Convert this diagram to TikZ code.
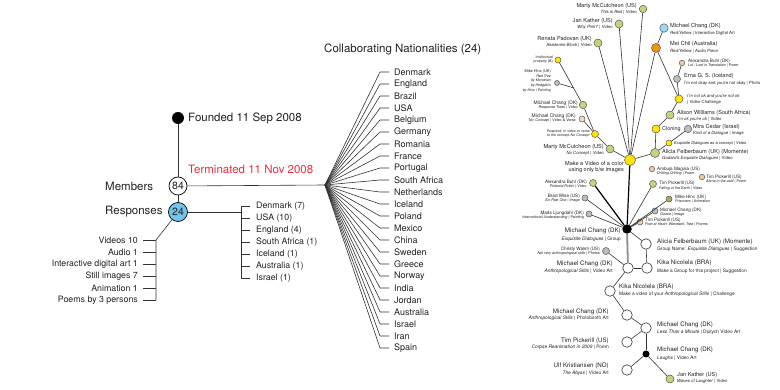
\documentclass[tikz,border=0pt]{standalone}
\usepackage{fontspec}
\setmainfont{TeX Gyre Heros}
\usetikzlibrary{calc}
\definecolor{txt}{HTML}{222222}
\definecolor{lncol}{HTML}{333333}
\definecolor{ocol}{HTML}{555555}
\definecolor{gr}{HTML}{C0D57C}
\definecolor{yl}{HTML}{FFE600}
\definecolor{bl}{HTML}{9DD6F2}
\definecolor{rb}{HTML}{72C5EA}
\definecolor{orc}{HTML}{F0940F}
\definecolor{tn}{HTML}{F3C9A0}
\definecolor{gy}{HTML}{BDBDBD}
\definecolor{ol}{HTML}{AEAA5E}
\definecolor{pc}{HTML}{F6D7BE}
\definecolor{termred}{HTML}{EE2C3C}
\newcommand\fsz[1]{\fontsize{#1}{#1}\selectfont}
\newcommand\tx[5]{\node[anchor=#2,inner sep=0pt,text=txt,font=#3] (#1) at #4 {#5};}
\newcommand\Lm{\fsz{6.2}}
\newcommand\Ls{\fsz{4.8}}
\newcommand\Mm{\fsz{5.6}}
\newcommand\Ms{\fsz{4.3}}
\newcommand\Sm{\fsz{4.6}}
\newcommand\Ss{\fsz{3.7}}
\newcommand\Tt{\fsz{3.6}}
\tikzset{
  ln/.style={draw=lncol, line width=0.6pt},
  thk/.style={draw=black, line width=1.2pt},
  thg/.style={draw=black!45, line width=1.8pt},
  cn/.style 2 args={circle, draw=ocol, line width=0.5pt, inner sep=0pt, fill=#1, minimum size=#2},
  wn/.style={circle, draw=lncol, line width=0.6pt, inner sep=0pt, fill=white, minimum size=10.5pt},
}
\begin{document}
\begin{tikzpicture}[x=1pt,y=-1pt]
\fill[white] (0,0) rectangle (780,390);
\path[use as bounding box] (0,0) rectangle (780,390);

% ---------------- left part ----------------
\node[circle, fill=black, inner sep=0pt, minimum size=12pt] (found) at (178,118) {};
\tx{foundt}{west}{\fsz{11.5}}{(188,118)}{Founded 11 Sep 2008}
\node[circle, draw=black, line width=0.7pt, fill=white, inner sep=0pt, minimum size=18pt, text=txt, font=\fsz{10.5}] (mem) at (178,186) {84};
\node[circle, draw=black, line width=0.7pt, fill=rb, inner sep=0pt, minimum size=19pt, text=txt, font=\fsz{10.5}] (resp) at (178,212) {24};
\tx{memt}{west}{\fsz{11.5}}{(105,186)}{Members}
\tx{respt}{west}{\fsz{11.5}}{(105,212)}{Responses}
\node[anchor=west, inner sep=0pt, text=termred, font=\fsz{11.5}] (term) at (188,169) {Terminated 11 Nov 2008};
\tx{collab}{west}{\fsz{11.5}}{(324,49)}{Collaborating Nationalities (24)}

\draw[ln] (found) -- (mem);
\draw[ln] (mem) -- (resp);
\coordinate (fan) at (325,185);
\draw[ln] (mem) -- (fan);

\foreach \c [count=\i from 0] in {Denmark,England,Brazil,USA,Belgium,Germany,Romania,France,Portugal,South Africa,Netherlands,Iceland,Poland,Mexico,China,Sweden,Greece,Norway,India,Jordan,Australia,Israel,Iran,Spain}{
  \node[anchor=west, inner sep=0pt, text=txt, font=\fsz{9}] (c\i) at (394,72+12*\i) {\c};
  \coordinate (e\i) at (380,72+12*\i);
  \coordinate (t\i) at (389,72+12*\i);
  \draw[ln] (fan) -- (e\i) -- (t\i);
}

% responses by country
\coordinate (rb0) at (241,212);
\draw[ln] (resp) -- (rb0);
\coordinate (rbt) at (241,206);
\coordinate (rbb) at (241,278);
\draw[ln] (rbt) -- (rbb);
\foreach \c [count=\i from 0] in {Denmark (7),USA (10),England (4),South Africa (1),Iceland (1),Australia (1),Israel (1)}{
  \node[anchor=west, inner sep=0pt, text=txt, font=\fsz{8.8}] (r\i) at (256,206+12*\i) {\c};
  \coordinate (ra\i) at (241,206+12*\i);
  \coordinate (rc\i) at (250,206+12*\i);
  \draw[ln] (ra\i) -- (rc\i);
}

% media
\coordinate (mtop) at (156,240);
\coordinate (mbot) at (156,300);
\draw[ln] (resp) -- (mtop) -- (mbot);
\foreach \c [count=\i from 0] in {Videos 10,Audio 1,Interactive digital art 1,Still images 7,Animation 1,Poems by 3 persons}{
  \node[anchor=east, inner sep=0pt, text=txt, font=\fsz{8.8}] (m\i) at (138,240+12*\i) {\c};
  \coordinate (ma\i) at (143,240+12*\i);
  \coordinate (mb\i) at (156,240+12*\i);
  \draw[ln] (ma\i) -- (mb\i);
}

% ---------------- right graph ----------------
\node[cn={gr}{7.5pt}] (mm1) at (643,9) {};
\node[cn={gr}{8pt}] (jk1) at (619,24) {};
\node[cn={gr}{8pt}] (rp) at (598,43) {};
\node[cn={yl}{6pt}] (ip) at (558,60) {};
\node[cn={gy}{5pt}] (mh1) at (557,83) {};
\node[cn={gr}{7.5pt}] (mcrt) at (583,105) {};
\node[cn={pc}{6pt}] (mcnc) at (582,119) {};
\node[cn={yl}{7pt}] (respy) at (595,134) {};
\node[cn={gr}{8pt}] (mm2) at (610,149) {};
\node[cn={yl}{11pt}] (bigY) at (630,160) {};
\node[cn={bl}{8.5pt}] (mcry) at (664,28) {};
\node[cn={orc}{9pt}] (mei) at (656,48) {};
\node[cn={tn}{5.5pt}] (ab1) at (682,63) {};
\node[cn={gy}{7pt}] (erna) at (677,79) {};
\node[cn={yl}{8pt}] (notok) at (679,99) {};
\node[cn={gr}{8pt}] (alison) at (670,115) {};
\node[cn={yl}{8pt}] (clon) at (656,129) {};
\node[cn={gy}{7.5pt}] (mira) at (688,129) {};
\node[cn={yl}{6pt}] (exq) at (669,143) {};
\node[cn={gr}{9pt}] (alicia1) at (655,153) {};
\node[cn={tn}{5.5pt}] (ambuja) at (652,169) {};
\node[cn={tn}{5.5pt}] (tim1) at (702,177) {};
\node[cn={gr}{7pt}] (tim2) at (653,184) {};
\node[cn={ol}{6pt}] (mh2) at (669,199) {};
\node[cn={gy}{6pt}] (goose) at (655,211) {};
\node[cn={tn}{6pt}] (poet) at (640,222) {};
\node[cn={gr}{7pt}] (ab2) at (593,183) {};
\node[cn={gy}{6pt}] (brad) at (585,198) {};
\node[cn={gy}{6pt}] (mads) at (589,214) {};
\node[circle, fill=black, inner sep=0pt, minimum size=9.5pt] (blk) at (627,229) {};
\node[wn] (alicia2) at (646,244) {};
\node[cn={gy}{7pt}] (christy) at (606,251) {};
\node[wn] (mcas) at (628,268) {};
\node[wn] (kika1) at (647,268) {};
\node[wn] (kika2) at (610,291) {};
\node[wn] (mcpb) at (627,315) {};
\node[wn] (mcltm) at (646,328) {};
\node[wn] (timc) at (627,342) {};
\node[circle, fill=black, inner sep=0pt, minimum size=7pt] (mclaugh) at (646,354) {};
\node[wn] (ulf) at (627,370) {};
\node[cn={gr}{8pt}] (jk2) at (670,379) {};

% edges
\coordinate (j1) at ($(ip)!0.62!(mcrt)$);
\draw[ln] (ip) -- (mcrt);
\draw[ln] (mh1) -- (j1);
\draw[ln] (mcrt) -- (respy);
\draw[ln] (mcnc) -- (respy);
\draw[ln] (respy) -- (mm2);
\draw[ln] (mm2) -- (bigY);
\draw[ln] (mm1) -- (bigY);
\draw[ln] (jk1) -- (bigY);
\draw[ln] (rp) -- (bigY);
\draw[ln] (mcry) -- (mei);
\draw[ln] (mei) -- (bigY);
\draw[ln] (mei) -- (notok);
\draw[ln] (ab1) -- (erna);
\draw[ln] (erna) -- (notok);
\draw[ln] (notok) -- (alison);
\draw[ln] (alison) -- (clon);
\draw[ln] (clon) -- (alicia1);
\draw[ln] (mira) -- (exq);
\draw[ln] (exq) -- (alicia1);
\draw[ln] (alicia1) -- (bigY);
\draw[thk] (bigY) -- (blk);
\draw[thk] (ab2) -- (blk);
\draw[ln] (brad) -- (blk);
\draw[ln] (mads) -- (blk);
\draw[ln] (tim2) -- (blk);
\draw[ln] (mh2) -- (blk);
\draw[ln] (goose) -- (blk);
\draw[ln] (poet) -- (blk);
\draw[ln] (blk) -- (alicia2);
\draw[ln] (alicia2) -- (kika1);
\draw[ln] (kika1) -- (mcas);
\draw[thg] (blk) -- (mcas);
\draw[ln] (christy) -- (mcas);
\draw[ln] (mcas) -- (kika2);
\draw[ln] (kika2) -- (mcpb);
\draw[ln] (mcpb) -- (mcltm);
\draw[ln] (timc) -- (mcltm);
\draw[ln] (mcltm) -- (mclaugh);
\draw[ln] (mclaugh) -- (ulf);
\draw[ln] (mclaugh) -- (jk2);

% labels
\tx{mm1a}{east}{\Mm}{(637,6)}{Marty McCutcheon (US)}
\tx{mm1b}{east}{\Ms}{(637,12)}{\textit{This is Red} | Video}
\tx{jk1a}{east}{\Mm}{(613,21)}{Jan Kather (US)}
\tx{jk1b}{east}{\Ms}{(613,27)}{\textit{Why Pink?} | Video}
\tx{rpa}{east}{\Mm}{(592,39)}{Renata Padovan (UK)}
\tx{rpb}{east}{\Ms}{(592,45)}{\textit{Akademie Block} | Video}
\tx{ipa}{east}{\Tt}{(553,57)}{Intellectual}
\tx{ipb}{east}{\Tt}{(553,62)}{property (B)}
\tx{mh1a}{east}{\fsz{3.9}}{(551,71)}{Mike Hinc (UK)}
\tx{mh1b}{east}{\Tt}{(551,76)}{\textit{Red Tree}}
\tx{mh1c}{east}{\Tt}{(551,81)}{\textit{by Mondrian}}
\tx{mh1d}{east}{\Tt}{(551,86)}{\textit{by Hodgekin}}
\tx{mh1e}{east}{\Tt}{(551,91)}{\textit{by Hinc} | Painting}
\tx{mcrta}{east}{\fsz{4.9}}{(578,103)}{Michael Chang (DK)}
\tx{mcrtb}{east}{\Ss}{(578,108)}{\textit{Response Trees} | Video}
\tx{mcnca}{east}{\fsz{4.9}}{(576,116)}{Michael Chang (DK)}
\tx{mcncb}{east}{\Ss}{(576,121)}{\textit{'No' Concept} | Video \& Verse}
\tx{respya}{east}{\Tt}{(590,132)}{Respond, in video or verse}
\tx{respyb}{east}{\Tt}{(590,136)}{to the concept \textit{No Concept}}
\tx{mm2a}{east}{\Mm}{(604,147)}{Marty McCutcheon (US)}
\tx{mm2b}{east}{\Ms}{(604,153)}{\textit{No Concept} | Video}
\tx{bigYa}{east}{\Mm}{(624,163)}{Make a Video of a color}
\tx{bigYb}{east}{\Mm}{(624,170)}{using only b/w images}
\tx{mcrya}{west}{\Mm}{(670,26)}{Michael Chang (DK)}
\tx{mcryb}{west}{\Ms}{(670,33)}{\textit{Red/Yellow} | Interactive Digital Art}
\tx{meia}{west}{\Mm}{(670,44)}{Mei Chil (Australia)}
\tx{meib}{west}{\Ms}{(670,51)}{\textit{Red/Yellow} | Audio Piece}
\tx{ab1a}{west}{\Sm}{(688,61)}{Alexandra Buhl (DK)}
\tx{ab1b}{west}{\Ss}{(688,66)}{\textit{Lol / Lost in Translation} | Poem}
\tx{ernaa}{west}{\Mm}{(684,76)}{Erna G. S. (Iceland)}
\tx{ernab}{west}{\Ms}{(684,83)}{I'm not okay and you're not okay | Photo}
\tx{notoka}{west}{\Ms}{(687,96)}{\textit{I'm not ok and you're not ok}}
\tx{notokb}{west}{\Ms}{(687,102)}{| Video Challenge}
\tx{alisona}{west}{\Mm}{(677,113)}{Alison Williams (South Africa)}
\tx{alisonb}{west}{\Ms}{(677,119)}{\textit{I'm ok you're ok} | Video}
\tx{clona}{west}{\fsz{5.4}}{(662,129)}{Cloning}
\tx{miraa}{west}{\Mm}{(693,127)}{Mira Cedar (Israel)}
\tx{mirab}{west}{\Ms}{(693,133)}{\textit{Kind of a Dialogue} | Image}
\tx{exqa}{west}{\fsz{4.0}}{(674,143)}{\textit{Exquisite Dialogues} as a concept | Video}
\tx{alicia1a}{west}{\Mm}{(662,152)}{Alicia Felberbaum (UK) (Momente)}
\tx{alicia1b}{west}{\Ms}{(662,158)}{\textit{Godard's Exquisite Dialogues} | Video}
\tx{ambujaa}{west}{\Sm}{(657,169)}{Ambuja Magaia (US)}
\tx{ambujab}{west}{\Ss}{(657,174)}{\textit{Drifting Drifting} | Poem}
\tx{tim1a}{west}{\Sm}{(706,177)}{Tim Pickerill (US)}
\tx{tim1b}{west}{\Ss}{(706,182)}{\textit{Alone in the void} | Poem}
\tx{tim2a}{west}{\Sm}{(659,183)}{Tim Pickerill (US)}
\tx{tim2b}{west}{\Ss}{(659,189)}{\textit{Falling of the Earth} | Video}
\tx{mh2a}{west}{\Sm}{(675,197)}{Mike Hinc (UK)}
\tx{mh2b}{west}{\Ss}{(675,202)}{\textit{Prisoners} | Animation}
\tx{goosea}{west}{\Sm}{(660,210)}{Michael Chang (DK)}
\tx{gooseb}{west}{\Ss}{(660,215)}{\textit{Goose} | Image}
\tx{poeta}{west}{\Sm}{(645,220)}{Tim Pickerill (US)}
\tx{poetb}{west}{\Ss}{(645,225)}{\textit{Poet at Heart, Werewolf, Tree} | Poems}
\tx{ab2a}{east}{\Sm}{(587,182)}{Alexandra Buhl (DK)}
\tx{ab2b}{east}{\Ss}{(587,187)}{\textit{Polaroid Polish} | Video}
\tx{brada}{east}{\Sm}{(580,196)}{Brad Wise (US)}
\tx{bradb}{east}{\Ss}{(580,201)}{\textit{Six Past One} | Image}
\tx{madsa}{east}{\Sm}{(584,213)}{Mads Ljungdahl (DK)}
\tx{madsb}{east}{\Ss}{(584,218)}{\textit{International Understanding} | Painting}
\tx{blka}{east}{\Lm}{(621,231)}{Michael Chang (DK)}
\tx{blkb}{east}{\Ls}{(621,239)}{\textit{Exquisite Dialogues} | Group}
\tx{alicia2a}{west}{\Lm}{(657,242)}{Alicia Felberbaum (UK) (Momente)}
\tx{alicia2b}{west}{\Ls}{(657,249)}{Group Name: \textit{Exquisite Dialogues} | Suggestion}
\tx{christya}{east}{\Sm}{(600,249)}{Christy Walsh (US)}
\tx{christyb}{east}{\Ss}{(600,254)}{\textit{Not very anthropological stills} | Photos}
\tx{mcasa}{east}{\Lm}{(613,264)}{Michael Chang (DK)}
\tx{mcasb}{east}{\Ls}{(613,271)}{\textit{Anthropological Stills} | Video Art}
\tx{kika1a}{west}{\Lm}{(657,263)}{Kika Nicolela (BRA)}
\tx{kika1b}{west}{\Ls}{(657,271)}{Make a Group for this project | Suggestion}
\tx{kika2a}{west}{\Lm}{(619,287)}{Kika Nicolela (BRA)}
\tx{kika2b}{west}{\Ls}{(619,294)}{Make a video of your \textit{Anthropological Stills} | Challenge}
\tx{mcpba}{east}{\Lm}{(609,312)}{Michael Chang (DK)}
\tx{mcpbb}{east}{\Ls}{(609,318)}{\textit{Anthropological Stills} | Photobooth Art}
\tx{mcltma}{west}{\Lm}{(657,325)}{Michael Chang (DK)}
\tx{mcltmb}{west}{\Ls}{(657,332)}{\textit{Less Than a Minute} | Diptych Video Art}
\tx{timca}{east}{\Lm}{(609,341)}{Tim Pickerill (US)}
\tx{timcb}{east}{\Ls}{(609,347)}{\textit{Corpse Reanimation in 2009} | Poem}
\tx{mclaugha}{west}{\Lm}{(657,350)}{Michael Chang (DK)}
\tx{mclaughb}{west}{\Ls}{(657,358)}{\textit{Laughs} | Video Art}
\tx{ulfa}{east}{\Lm}{(609,366)}{Ulf Kristiansen (NO)}
\tx{ulfb}{east}{\Ls}{(609,373)}{\textit{The Abyss} | Video Art}
\tx{jk2a}{west}{\Mm}{(677,375)}{Jan Kather (US)}
\tx{jk2b}{west}{\Ms}{(677,381)}{\textit{Waves of Laughter} | Video}
\end{tikzpicture}
\end{document}
